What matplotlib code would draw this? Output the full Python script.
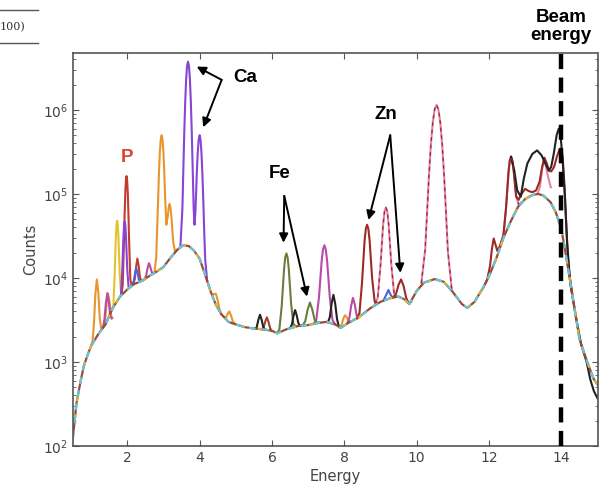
import matplotlib
matplotlib.use("Agg")
import matplotlib.pyplot as plt
from matplotlib.lines import Line2D
from matplotlib.ticker import LogLocator, NullLocator

# ---------------- data (energy, counts) ----------------
bg_E = [0.50, 0.60, 0.70, 0.80, 0.90, 1.00, 1.20, 1.40, 1.60, 1.80, 2.00, 2.20, 2.40,
        2.60, 2.80, 3.00, 3.20, 3.40, 3.55, 3.70, 3.85, 4.00, 4.15, 4.30, 4.45, 4.60,
        4.80, 5.00, 5.25, 5.50, 5.75, 6.00, 6.15, 6.40, 6.75, 7.00, 7.25, 7.50, 7.75,
        7.90, 8.10, 8.40, 8.70, 9.00, 9.30, 9.50, 9.65, 9.80, 10.00, 10.20, 10.50,
        10.75, 11.00, 11.25, 11.40, 11.60, 11.85, 12.00, 12.20, 12.40, 12.60, 12.80,
        13.00, 13.20, 13.35, 13.50, 13.70, 13.85, 14.00, 14.10, 14.20, 14.30, 14.40,
        14.50, 14.60, 14.70, 14.80, 14.90, 15.00]
bg_C = [130, 330, 560, 900, 1200, 1550, 2150, 2800, 4400, 6000, 7300, 8500, 9200,
        10500, 11800, 13500, 17500, 22000, 24500, 24000, 21000, 17000, 11000, 7000, 4800, 3700,
        3000, 2800, 2600, 2500, 2450, 2350, 2200, 2450, 2700, 2750, 2900, 3000, 2800,
        2550, 2900, 3400, 4300, 5200, 5800, 6000, 5600, 4900, 7000, 8800, 9700,
        9000, 6800, 4900, 4400, 5200, 7800, 10500, 17000, 30000, 47000, 70000,
        87000, 97000, 100000, 96000, 80000, 60000, 38000, 22000, 12000, 6500, 3500,
        1900, 1400, 1050, 800, 620, 540]

orange_peaks = [
    ([1.00, 1.04, 1.08, 1.12, 1.16, 1.20, 1.24, 1.28, 1.32, 1.35, 1.39, 1.43, 1.47, 1.51, 1.55, 1.59],
     [1550, 1780, 2880, 6560, 9600, 6760, 3300, 2490, 2550, 2620, 3240, 5040, 6500, 5200, 3590, 3340]),
    ([2.75, 2.80, 2.85, 2.875, 2.90, 2.925, 2.95, 2.975, 3.00, 3.025, 3.05, 3.08, 3.12, 3.145,
      3.17, 3.195, 3.22, 3.27, 3.32, 3.37],
     [11600, 17400, 78000, 171000, 309000, 443000, 500000, 443000, 309000, 173000, 84000, 43000,
      54000, 69000, 76000, 69000, 54000, 27000, 20700, 21500]),
    ([4.35, 4.40, 4.45, 4.50, 4.55, 4.60, 4.72, 4.77, 4.82, 4.87, 4.92, 4.97],
     [6300, 6430, 6500, 5430, 4230, 3700, 3300, 3700, 4000, 3560, 3035, 2850]),
    ([7.87, 7.92, 7.97, 8.02, 8.07, 8.12, 8.17],
     [2600, 2720, 3250, 3600, 3400, 3070, 3050]),
]
yellow_peaks = [
    ([1.615, 1.65, 1.685, 1.7025, 1.72, 1.7375, 1.755, 1.79, 1.825, 1.86],
     [4500, 10500, 31000, 43000, 48000, 43000, 31500, 11700, 6700, 6500]),
]
purple_peaks = [
    ([1.825, 1.86, 1.895, 1.9125, 1.93, 1.9475, 1.965, 2.00, 2.035, 2.07],
     [6200, 11900, 31000, 42000, 47000, 42000, 31000, 12700, 7900, 7700]),
    ([3.47, 3.524, 3.55, 3.576, 3.602, 3.628, 3.654, 3.68, 3.706, 3.732, 3.758, 3.784, 3.81,
      3.836, 3.86, 3.884, 3.896, 3.922, 3.948, 3.974, 4.00, 4.026, 4.052, 4.078, 4.104,
      4.13, 4.156, 4.21],
     [24300, 66000, 190000, 535000, 1250000, 2310000, 3360000, 3750000, 3360000, 2310000,
      1250000, 533000, 190000, 67000, 43000, 61000, 84000, 174000, 310000, 443000, 500000,
      443000, 306000, 171000, 78000, 33000, 16300, 9200]),
]
red_peaks = [
    ([1.84, 1.875, 1.91, 1.9275, 1.945, 1.9625, 1.98, 1.9975, 2.015, 2.0325, 2.05, 2.085, 2.12],
     [6300, 8300, 28000, 58000, 102000, 145000, 163000, 145000, 102000, 58000, 29000, 9600, 8100]),
    ([2.175, 2.21, 2.245, 2.28, 2.315, 2.35, 2.385, 2.42],
     [8600, 9800, 13700, 17000, 13900, 10200, 9300, 9300]),
]
blue_peaks = [
    ([2.145, 2.18, 2.215, 2.25, 2.285, 2.32, 2.355],
     [8400, 9200, 11250, 13000, 11450, 9600, 9100]),
    ([9.10, 9.16, 9.22, 9.28, 9.34],
     [5600, 6300, 7200, 6300, 5800]),
]
magenta_peaks = [
    ([1.33, 1.37, 1.41, 1.45, 1.49, 1.53, 1.57],
     [2600, 3200, 5100, 6600, 5200, 3500, 3300]),
    ([2.48, 2.52, 2.56, 2.60, 2.64, 2.68, 2.72],
     [9700, 10600, 13000, 15000, 13400, 11600, 11300]),
    ([7.15, 7.225, 7.30, 7.375, 7.4125, 7.45, 7.4875, 7.525, 7.60, 7.675, 7.75],
     [2850, 3140, 5850, 16000, 22000, 24500, 22000, 16000, 5850, 3140, 2800]),
    ([8.09, 8.14, 8.19, 8.24, 8.29, 8.34, 8.39],
     [2950, 3340, 4680, 5800, 4830, 3590, 3400]),
]
olive_peaks = [
    ([6.14, 6.205, 6.27, 6.335, 6.3675, 6.40, 6.4325, 6.465, 6.53, 6.595, 6.66],
     [2200, 2440, 4620, 12800, 17600, 19600, 17600, 12900, 4900, 2810, 2660]),
    ([6.79, 6.855, 6.92, 6.985, 7.05, 7.115, 7.18, 7.245, 7.31],
     [2700, 2750, 3050, 4170, 5100, 4210, 3170, 2930, 2950]),
]
brown_peaks = [
    ([5.725, 5.77, 5.815, 5.86, 5.905, 5.95, 5.995],
     [2440, 2565, 3030, 3400, 3000, 2515, 2350]),
]
zn_peaks = [
    ([8.35, 8.42, 8.49, 8.56, 8.595, 8.63, 8.665, 8.70, 8.77, 8.84, 8.91],
     [3300, 3830, 8800, 27400, 38400, 43000, 38400, 28000, 9850, 5230, 5000]),
    ([9.29, 9.36, 9.43, 9.50, 9.57, 9.64, 9.71, 9.78, 9.85],
     [5800, 5940, 6460, 8300, 9600, 8000, 5810, 5000, 5200]),
    ([11.85, 11.95, 12.03, 12.08, 12.13, 12.18, 12.23, 12.30, 12.40, 12.47, 12.54, 12.575,
      12.61, 12.645, 12.68, 12.75, 12.82, 12.90, 13.00, 13.10, 13.20, 13.30, 13.40, 13.47,
      13.53, 13.60, 13.66, 13.72, 13.80, 13.88, 13.95, 13.99, 14.04, 14.09, 14.14, 14.20, 14.30],
     [7800, 9500, 14000, 22000, 29500, 25000, 21000, 24000, 32500, 67000, 182000, 250000,
      277000, 250000, 195000, 94000, 85000, 100000, 115000, 108000, 105000, 110000, 140000,
      210000, 270000, 230000, 190000, 185000, 210000, 280000, 340000, 350000, 260000, 120000,
      40000, 13000, 6500]),
]
pink_peaks = [
    ([8.85, 8.925, 9.00, 9.075, 9.1125, 9.15, 9.1875, 9.225, 9.30, 9.375, 9.45],
     [4900, 5800, 14000, 44000, 62000, 69000, 62000, 44000, 14400, 6600, 6000]),
    ([10.13, 10.235, 10.2875, 10.34, 10.3925, 10.445, 10.4975, 10.55, 10.6025, 10.655,
      10.7075, 10.76, 10.8125, 10.865, 10.97],
     [8700, 21500, 59000, 163000, 380000, 700000, 1016000, 1150000, 1016000, 700000,
      380000, 163000, 59000, 20500, 7400]),
    ([12.33, 12.40, 12.47, 12.54, 12.575, 12.61, 12.645, 12.68, 12.75, 12.82, 12.89],
     [25000, 32500, 67000, 182000, 250000, 277000, 250000, 195000, 94000, 74500, 79000]),
    ([13.35, 13.41, 13.47, 13.53, 13.59, 13.65, 13.71],
     [102000, 123000, 200000, 270000, 196000, 150000, 120000]),
]
black_peaks = [
    ([5.535, 5.58, 5.625, 5.67, 5.715, 5.76, 5.805],
     [2500, 2610, 3190, 3650, 3170, 2590, 2420]),
    ([6.505, 6.55, 6.595, 6.64, 6.685, 6.73, 6.775],
     [2550, 2780, 3530, 4150, 3590, 2900, 2700]),
    ([7.55, 7.60, 7.65, 7.70, 7.75, 7.80, 7.85],
     [2980, 3420, 5000, 6300, 4900, 3220, 2650]),
    ([12.61, 12.70, 12.78, 12.88, 12.96, 13.06, 13.20, 13.33, 13.45, 13.56, 13.65, 13.72,
      13.79, 13.87, 13.93, 13.98, 14.03, 14.10, 14.16, 14.25, 14.40, 14.55, 14.70, 14.80,
      14.90, 15.00],
     [277000, 190000, 110000, 93000, 150000, 230000, 300000, 330000, 290000, 230000, 190000, 210000,
      300000, 500000, 600000, 480000, 280000, 90000, 26000, 8500, 3500, 1600, 1000, 620,
      450, 370]),
]

xticks = [2, 4, 6, 8, 10, 12, 14]
beam_energy = 14

# ---------------- figure ----------------
fig = plt.figure(figsize=(6.02, 4.91), dpi=100)
ax = fig.add_axes([73 / 602, 1 - 446 / 491, (597.5 - 73) / 602, (446 - 52.7) / 491])
ax.set_yscale("log")
ax.set_xlim(0.5, 15)
ax.set_ylim(100, 4.8e6)

lw = 1.5
styles = [
    (orange_peaks, "#e8952e"),
    (yellow_peaks, "#e3c230"),
    (red_peaks, "#c23b30"),
    (blue_peaks, "#4a63d8"),
    (magenta_peaks, "#b84aa8"),
    (olive_peaks, "#6b7d3a"),
    (brown_peaks, "#a0402c"),
    (pink_peaks, "#e582a2"),
    (zn_peaks, "#9e2a26"),
    (purple_peaks, "#8844d8"),
    (black_peaks, "#222222"),
]
for peaks, col in styles:
    for E, C in peaks:
        ax.plot(E, C, color=col, lw=lw, solid_joinstyle="round")

# dark dashed fit drawn over the pink lead peaks
for E, C in pink_peaks[:3]:
    ax.plot(E, C, color="#8e2d3a", lw=0.9, dashes=(3, 3))

# background: overlapping dashed fits
ax.plot(bg_E, bg_C, color="#9a4a35", lw=1.6)
ax.plot(bg_E, bg_C, color="#d9b640", lw=1.6, dashes=(2, 6), dash_capstyle="butt")
ax.plot(bg_E, bg_C, color="#66c6d6", lw=1.6, dashes=(3, 3))

# beam energy line
ax.axvline(beam_energy, color="black", lw=3.2, dashes=(3.4, 1.9), zorder=5)

# axes styling
ax.set_xticks(xticks)
ax.xaxis.set_minor_locator(NullLocator())
ax.yaxis.set_major_locator(LogLocator(base=10, numticks=10))
ax.yaxis.set_minor_locator(LogLocator(base=10, subs=range(2, 10), numticks=20))
ax.tick_params(which="both", direction="in", top=True, right=True, colors="#555555",
               labelcolor="#444444", labelsize=10)
ax.tick_params(which="major", length=4, width=0.8)
ax.tick_params(which="minor", length=2, width=0.6)
for s in ax.spines.values():
    s.set_color("#555555")
    s.set_linewidth(1.2)
ax.set_xlabel("Energy", fontsize=10.5, color="#444444", labelpad=3)
ax.set_ylabel("Counts", fontsize=10.5, color="#444444", labelpad=3)

# annotations
bold = dict(family=["Liberation Sans", "DejaVu Sans"], weight="bold", fontsize=13.5)
ax.text(1.99, 2.75e5, "P", color="#d9442e", ha="center", va="center", **bold)
ax.text(4.93, 2.4e6, "Ca", color="black", ha="left", va="center", **bold)
ax.text(6.21, 1.74e5, "Fe", color="black", ha="center", va="center", **bold)
ax.text(9.16, 8.9e5, "Zn", color="black", ha="center", va="center", **bold)

arrow = dict(arrowstyle="-|>", color="black", lw=1.4, mutation_scale=13, shrinkA=0, shrinkB=0)
arrows = [
    ((4.61, 2.28e6), (3.92, 3.28e6)),
    ((4.61, 2.28e6), (4.10, 6.22e5)),
    ((6.34, 9.46e4), (6.32, 2.63e4)),
    ((6.34, 9.46e4), (6.97, 6.0e3)),
    ((9.27, 5.0e5), (8.67, 4.9e4)),
    ((9.27, 5.0e5), (9.55, 1.15e4)),
]
for start, tip in arrows:
    ax.annotate("", xy=tip, xytext=start, arrowprops=arrow)

fig.text(561 / 602, 1 - 44 / 491, "Beam\nenergy", ha="center", va="bottom",
         linespacing=1.1, **bold)

# cropped paper fragment at top-left
fig.add_artist(Line2D([0, 38 / 602], [1 - 10 / 491, 1 - 10 / 491], color="#555555", lw=1.0))
fig.add_artist(Line2D([0, 38 / 602], [1 - 43 / 491, 1 - 43 / 491], color="#555555", lw=1.0))
fig.text(0, 1 - 27 / 491, "100)", family="DejaVu Serif", fontsize=8, color="#333333",
         ha="left", va="center")

fig.savefig("out.png", dpi=100)
